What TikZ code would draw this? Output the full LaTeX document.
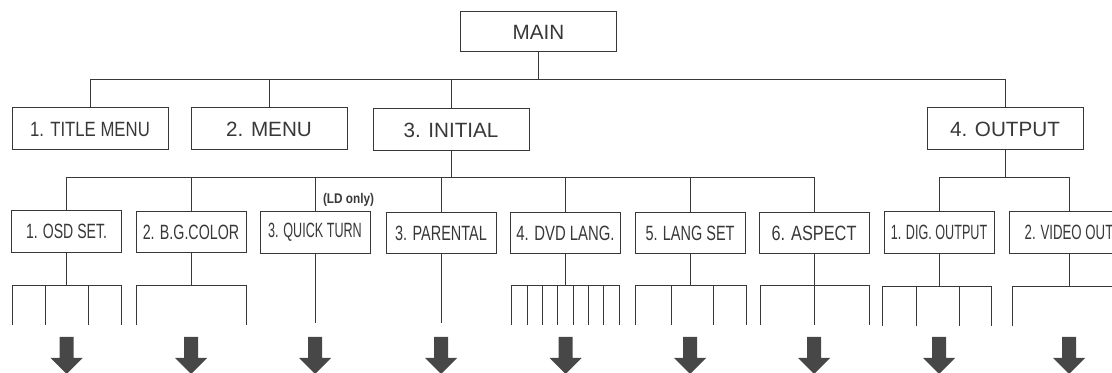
\documentclass[tikz,border=0pt]{standalone}
\usepackage{fontspec}
\setmainfont{Liberation Sans}
\usepackage{graphicx}

% squeeze a label sideways, like the narrow print of the original
\newcommand{\squeezed}[2]{\scalebox{#1}[1]{#2}}

\begin{document}
\begin{tikzpicture}[
  x=0.75pt, y=-0.75pt,
  color=black!78,
  line width=0.75pt,
  topbox/.style={draw, minimum width=117pt, minimum height=31.5pt, inner sep=0pt,
    font=\fontsize{15.5}{18}\selectfont},
  subbox/.style={draw, minimum width=82.5pt, minimum height=31pt, inner sep=0pt,
    font=\fontsize{15.5}{18}\selectfont},
  note/.style={inner sep=0pt, font=\fontsize{10.5}{12}\selectfont\bfseries},
  fatarrow/.pic={\fill[black!72] (-7,0) -- (-7,21) -- (-16,21) -- (0,37)
    -- (16,21) -- (7,21) -- (7,0) -- cycle;}
]
\useasboundingbox (0,0) rectangle (1112,373);

% levels of the menu
\node[topbox, minimum height=30pt] (main) at (538.5,32) {MAIN};
\node[topbox] (title)   at (90,129)   {\squeezed{0.81}{1. TITLE MENU}};
\node[topbox] (menu)    at (269,129)  {2. MENU};
\node[topbox] (initial) at (451,130)  {3. INITIAL};
\node[topbox] (output)  at (1005,129) {4. OUTPUT};

\node[subbox] (osd)      at (66.5,231.5) {\squeezed{0.68}{1. OSD SET.}};
\node[subbox] (bgc)      at (191,232)    {\squeezed{0.69}{2. B.G.COLOR}};
\node[subbox] (quick)    at (315,232.5)  {\squeezed{0.61}{3. QUICK TURN}};
\node[subbox] (parental) at (441,233)    {\squeezed{0.70}{3. PARENTAL}};
\node[subbox] (dvdlang)  at (565.5,233)  {\squeezed{0.72}{4. DVD LANG.}};
\node[subbox] (langset)  at (690,233)    {\squeezed{0.70}{5. LANG SET}};
\node[subbox] (aspect)   at (814,233)    {\squeezed{0.79}{6. ASPECT}};
\node[subbox] (digout)   at (939,232.5)  {\squeezed{0.61}{1. DIG. OUTPUT}};
\node[subbox, minimum width=90pt] (videoout) at (1069,232.5) {\squeezed{0.64}{2. VIDEO OUT}};
\node[note] (ldonly) at (348.5,200) {\squeezed{0.84}{(LD only)}};

% bus heights
\coordinate (bus1) at (0,80);
\coordinate (bus2) at (0,178);
\coordinate (bus3) at (0,286);
\coordinate (ends) at (0,325);

\draw (main.south) -- (main |- bus1);
\draw (title.north) |- (output |- bus1) -- (output.north);
\draw (menu.north) -- (menu |- bus1);
\draw (initial.north) -- (initial |- bus1);

\draw (initial.south) -- (initial |- bus2);
\draw (osd.north) |- (aspect |- bus2) -- (aspect.north);
\foreach \n in {bgc,quick,parental,dvdlang,langset}
  \draw (\n.north) -- (\n |- bus2);
\draw (output.south) -- (output |- bus2);
\draw (digout.north) |- (videoout |- bus2) -- (videoout.north);

% settings under each item
\foreach \n in {osd,bgc,dvdlang,langset,digout,videoout}
  \draw (\n.south) -- (\n |- bus3);
\draw (quick.south) -- (quick |- 0,323);
\draw (parental.south) -- (parental |- 0,323);
\draw (aspect.south) -- (aspect |- ends);

\draw (12,325) |- (121,286) -- (121,325);
\foreach \x in {45,88} \draw (\x,286) -- (\x,325);
\draw (136,325) |- (246,286) -- (246,325);
\draw (511,325) |- (619,286) -- (619,325);
\foreach \x in {527,542,557,573,588,603} \draw (\x,286) -- (\x,325);
\draw (635,325) |- (746,286) -- (746,325);
\foreach \x in {671,713} \draw (\x,286) -- (\x,325);
\draw (760,325) |- (869,286) -- (869,325);
\draw (882,326) |- (991,287) -- (991,326);
\foreach \x in {916,959} \draw (\x,287) -- (\x,326);
\draw (1012,326) |- (1125,287);

\foreach \n in {osd,bgc,quick,parental,dvdlang,langset,aspect,digout,videoout}
  \pic at (\n |- 0,337) {fatarrow};
\end{tikzpicture}
\end{document}
